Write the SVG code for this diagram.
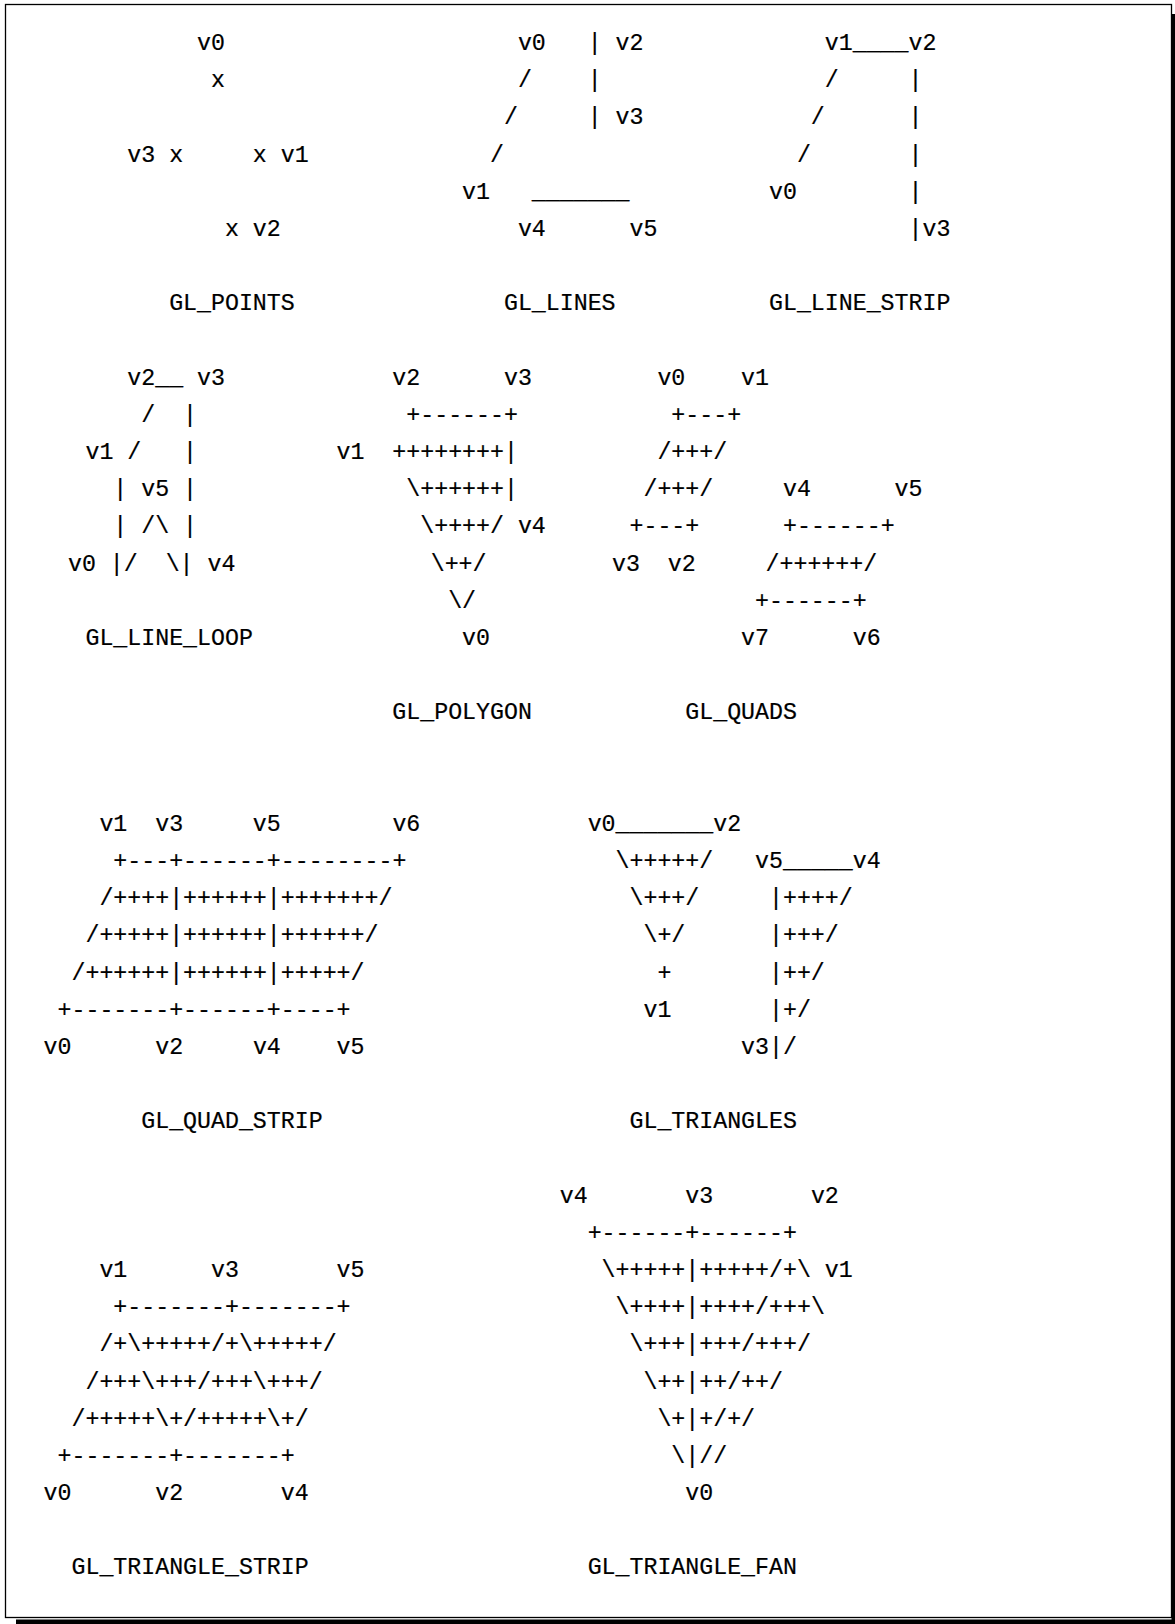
<svg xmlns="http://www.w3.org/2000/svg" width="1175" height="1624" viewBox="0 0 1175 1624">
<style>
text{font-family:"Liberation Mono","DejaVu Sans Mono",monospace;font-size:23.25px;fill:#000;white-space:pre;stroke:#000;stroke-width:0.2px}
.frame{fill:none;stroke:#000;stroke-width:1.3}
.shadow{fill:#000}
</style>
<rect width="1175" height="1624" fill="#fff"/>
<g id="frame">
<rect class="frame" x="5.5" y="4.5" width="1166" height="1613"/>
<rect class="shadow" x="1171.5" y="14" width="3.5" height="1610"/>
<rect class="shadow" x="16" y="1619.5" width="1159" height="4.5"/>
</g>
<g id="connectors"/>
<g id="gl-points" xml:space="preserve">
<text x="197.05" y="50">v0</text>
<text x="211.0" y="87.2">x</text>
<text x="127.3" y="161.5">v3 x     x v1</text>
<text x="224.95" y="235.9">x v2</text>
<text x="169.15" y="310.3">GL_POINTS</text>
</g>
<g id="gl-lines" xml:space="preserve">
<text x="517.9" y="50">v0   | v2</text>
<text x="517.9" y="87.2">/    |</text>
<text x="503.95" y="124.4">/     | v3</text>
<text x="490.0" y="161.5">/</text>
<text x="462.1" y="198.7">v1   _______</text>
<text x="517.9" y="235.9">v4      v5</text>
<text x="503.95" y="310.3">GL_LINES</text>
</g>
<g id="gl-line-strip" xml:space="preserve">
<text x="824.8" y="50">v1____v2</text>
<text x="824.8" y="87.2">/     |</text>
<text x="810.85" y="124.4">/      |</text>
<text x="796.9" y="161.5">/       |</text>
<text x="769.0" y="198.7">v0        |</text>
<text x="908.5" y="235.9">|v3</text>
<text x="769.0" y="310.3">GL_LINE_STRIP</text>
</g>
<g id="gl-line-loop" xml:space="preserve">
<text x="127.3" y="384.6">v2__ v3</text>
<text x="141.25" y="421.8">/  |</text>
<text x="85.45" y="459.0">v1 /   |</text>
<text x="113.35" y="496.2">| v5 |</text>
<text x="113.35" y="533.3">| /\ |</text>
<text x="68" y="570.5">v0 |/  \| v4</text>
<text x="85.45" y="644.9">GL_LINE_LOOP</text>
</g>
<g id="gl-polygon" xml:space="preserve">
<text x="392.35" y="384.6">v2      v3</text>
<text x="406.3" y="421.8">+------+</text>
<text x="336.55" y="459.0">v1  ++++++++|</text>
<text x="406.3" y="496.2">\++++++|</text>
<text x="420.25" y="533.3">\++++/ v4</text>
<text x="430.7" y="570.5">\++/</text>
<text x="448.15" y="607.7">\/</text>
<text x="462.1" y="644.9">v0</text>
<text x="392.35" y="719.2">GL_POLYGON</text>
</g>
<g id="gl-quads" xml:space="preserve">
<text x="657.4" y="384.6">v0    v1</text>
<text x="671.35" y="421.8">+---+</text>
<text x="657.4" y="459.0">/+++/</text>
<text x="643.45" y="496.2">/+++/     v4      v5</text>
<text x="629.5" y="533.3">+---+      +------+</text>
<text x="612.05" y="570.5">v3  v2     /++++++/</text>
<text x="755.05" y="607.7">+------+</text>
<text x="741.1" y="644.9">v7      v6</text>
<text x="685.3" y="719.2">GL_QUADS</text>
</g>
<g id="gl-quad-strip" xml:space="preserve">
<text x="99.4" y="830.8">v1  v3     v5        v6</text>
<text x="113.35" y="868.0">+---+------+--------+</text>
<text x="99.4" y="905.1">/++++|++++++|+++++++/</text>
<text x="85.45" y="942.3">/+++++|++++++|++++++/</text>
<text x="71.5" y="979.5">/++++++|++++++|+++++/</text>
<text x="57.55" y="1016.7">+-------+------+----+</text>
<text x="43.6" y="1053.9">v0      v2     v4    v5</text>
<text x="141.25" y="1128.2">GL_QUAD_STRIP</text>
</g>
<g id="gl-triangles" xml:space="preserve">
<text x="587.65" y="830.8">v0_______v2</text>
<text x="615.55" y="868.0">\+++++/   v5_____v4</text>
<text x="629.5" y="905.1">\+++/     |++++/</text>
<text x="643.45" y="942.3">\+/      |+++/</text>
<text x="657.4" y="979.5">+       |++/</text>
<text x="643.45" y="1016.7">v1       |+/</text>
<text x="741.1" y="1053.9">v3|/</text>
<text x="629.5" y="1128.2">GL_TRIANGLES</text>
</g>
<g id="gl-triangle-strip" xml:space="preserve">
<text x="99.4" y="1276.9">v1      v3       v5</text>
<text x="113.35" y="1314.1">+-------+-------+</text>
<text x="99.4" y="1351.3">/+\+++++/+\+++++/</text>
<text x="85.45" y="1388.5">/+++\+++/+++\+++/</text>
<text x="71.5" y="1425.7">/+++++\+/+++++\+/</text>
<text x="57.55" y="1462.8">+-------+-------+</text>
<text x="43.6" y="1500.0">v0      v2       v4</text>
<text x="71.5" y="1574.4">GL_TRIANGLE_STRIP</text>
</g>
<g id="gl-triangle-fan" xml:space="preserve">
<text x="559.75" y="1202.6">v4       v3       v2</text>
<text x="587.65" y="1239.8">+------+------+</text>
<text x="601.6" y="1276.9">\+++++|+++++/+\ v1</text>
<text x="615.55" y="1314.1">\++++|++++/+++\</text>
<text x="629.5" y="1351.3">\+++|+++/+++/</text>
<text x="643.45" y="1388.5">\++|++/++/</text>
<text x="657.4" y="1425.7">\+|+/+/</text>
<text x="671.35" y="1462.8">\|//</text>
<text x="685.3" y="1500.0">v0</text>
<text x="587.65" y="1574.4">GL_TRIANGLE_FAN</text>
</g>
</svg>
